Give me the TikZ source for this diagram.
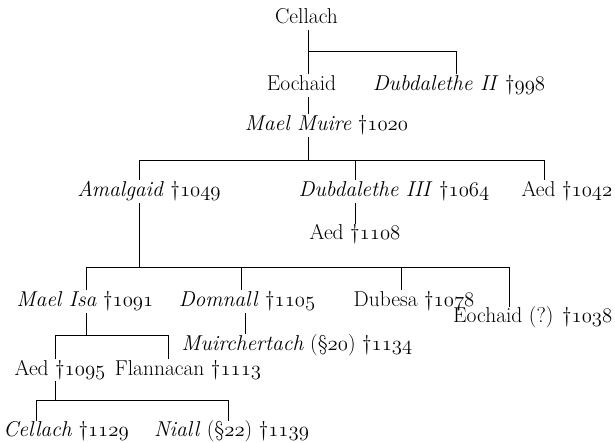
\documentclass[tikz,border=0pt]{standalone}
\newcommand\osn[1]{{\fontencoding{OML}\fontfamily{lmm}\fontseries{m}\fontshape{it}\selectfont #1}}
\newcommand\dg[1]{\textdagger\osn{#1}}
\begin{document}
\begin{tikzpicture}[x=1pt,y=-1pt,
  nm/.style={inner sep=1pt, text height=15pt, text depth=5pt, anchor=base, font=\fontsize{21.5}{25}\selectfont},
  ln/.style={line width=0.9pt, black}]
\useasboundingbox (0,0) rectangle (615,443);
% names
\node[nm] (cellach) at (306.5,24) {Cellach};
\node[nm] (eochaid) at (301.5,90.7) {Eochaid};
\node[nm] (dubII) at (459,90.7) {\textit{Dubdalethe II} \dg{998}};
\node[nm] (maelmuire) at (326.5,130.7) {\textit{Mael Muire} \dg{1020}};
\node[nm] (amalgaid) at (149,196.7) {\textit{Amalgaid} \dg{1049}};
\node[nm] (dubIII) at (394,196.7) {\textit{Dubdalethe III} \dg{1064}};
\node[nm,anchor=base east] (aed1042) at (613.5,196.7) {Aed \dg{1042}};
\node[nm] (aed1108) at (355,240) {Aed \dg{1108}};
\node[nm] (maelisa) at (85,306.7) {\textit{Mael Isa} \dg{1091}};
\node[nm] (domnall) at (247,306.7) {\textit{Domnall} \dg{1105}};
\node[nm] (dubesa) at (414,306.7) {Dubesa \dg{1078}};
\node[nm,anchor=base east] (eochaidq) at (613.5,323) {Eochaid (?) \dg{1038}};
\node[nm] (muirchertach) at (297,350) {\textit{Muirchertach} (\S\osn{20}) \dg{1134}};
\node[nm] (aed1095) at (60,375) {Aed \dg{1095}};
\node[nm] (flannacan) at (188,375) {Flannacan \dg{1113}};
\node[nm] (cellachb) at (66,436.7) {\textit{Cellach} \dg{1129}};
\node[nm] (niall) at (231.5,436.7) {\textit{Niall} (\S\osn{22}) \dg{1139}};
% bar coordinates
\coordinate (b1l) at (308.5,51);
\coordinate (b1r) at (456.5,51);
\coordinate (b2p) at (308.5,160);
\coordinate (b2l) at (139,160);
\coordinate (b2m) at (355.4,160);
\coordinate (b2r) at (544.5,160);
\coordinate (b3p) at (139,267);
\coordinate (b3a) at (86,267);
\coordinate (b3b) at (241,267);
\coordinate (b3c) at (401,267);
\coordinate (b3d) at (509.5,267);
\coordinate (d1) at (245,300);
\coordinate (b4p) at (86.7,335);
\coordinate (b4a) at (55,335);
\coordinate (b4b) at (168.5,335);
\coordinate (b5p) at (55,400.7);
\coordinate (b5a) at (36,400.7);
\coordinate (b5b) at (228.5,400.7);
% connectors
\draw[ln] (b1l |- cellach.south) -- (b1l) -- (b1r) -- (b1r |- dubII.north);
\draw[ln] (b1l) -- (b1l |- eochaid.north);
\draw[ln] (b1l |- eochaid.south) -- (b1l |- maelmuire.north);
\draw[ln] (b2p |- maelmuire.south) -- (b2p);
\draw[ln] (b2l |- amalgaid.north) -- (b2l) -- (b2r) -- (b2r |- aed1042.north);
\draw[ln] (b2m) -- (b2m |- dubIII.north);
\draw[ln] (b2m |- dubIII.south) -- (b2m |- aed1108.north);
\draw[ln] (b3p |- amalgaid.south) -- (b3p);
\draw[ln] (b3a |- maelisa.north) -- (b3a) -- (b3d) -- (b3d |- eochaidq.north);
\draw[ln] (b3b) -- (b3b |- domnall.north);
\draw[ln] (b3c) -- (b3c |- dubesa.north);
\draw[ln] (d1 |- domnall.south) -- (d1 |- muirchertach.north);
\draw[ln] (b4p |- maelisa.south) -- (b4p);
\draw[ln] (b4a |- aed1095.north) -- (b4a) -- (b4b) -- (b4b |- flannacan.north);
\draw[ln] (b5p |- aed1095.south) -- (b5p);
\draw[ln] (b5a |- cellachb.north) -- (b5a) -- (b5b) -- (b5b |- niall.north);
\end{tikzpicture}
\end{document}
